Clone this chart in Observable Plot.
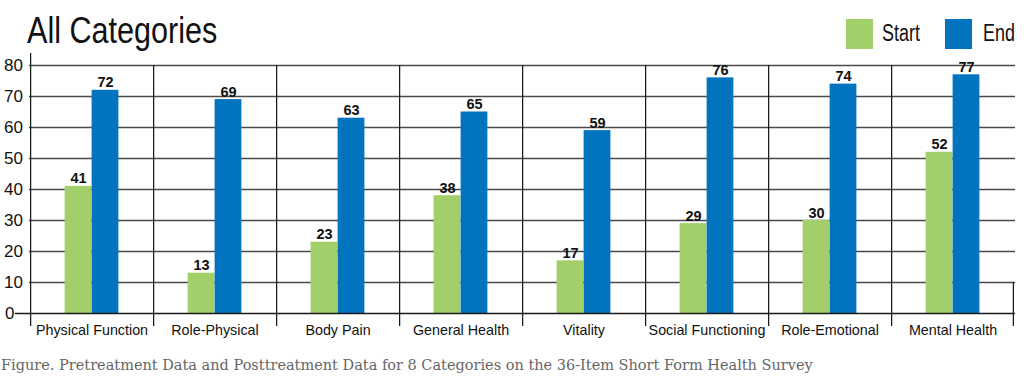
<!DOCTYPE html>
<html>
<head>
<meta charset="utf-8">
<script src="https://cdn.jsdelivr.net/npm/d3@7"></script>
<script src="https://cdn.jsdelivr.net/npm/@observablehq/plot@0.6"></script>
<style>
  body { margin: 0; background: #fff; width: 1024px; height: 380px; overflow: hidden; }
  #head { position: relative; height: 53px; font-family: "Liberation Sans", Arial, sans-serif; color: #111; }
  #title { position: absolute; left: 27px; top: 12px; font-size: 37px; line-height: 1; white-space: nowrap; transform: scaleX(0.826); transform-origin: 0 0; }
  .sw { position: absolute; top: 19px; width: 27px; height: 30px; }
  .lt { position: absolute; top: 22px; font-size: 23px; line-height: 1; white-space: nowrap; transform: scaleX(0.78); transform-origin: 0 0; }
  #chart svg { display: block; overflow: visible; }
  #cap { font-family: "DejaVu Serif", serif; font-size: 14.5px; line-height: 20px; color: #666; margin-left: 1px; margin-top: 7px; white-space: nowrap; }
</style>
</head>
<body>
<div id="head">
  <div id="title">All Categories</div>
  <div id="legend"></div>
</div>
<div id="chart"></div>
<div id="cap">Figure. Pretreatment Data and Posttreatment Data for 8 Categories on the 36-Item Short Form Health Survey</div>
<script>
const categories = ["Physical Function", "Role-Physical", "Body Pain", "General Health", "Vitality", "Social Functioning", "Role-Emotional", "Mental Health"];
const startValues = [41, 13, 23, 38, 17, 29, 30, 52];
const endValues = [72, 69, 63, 65, 59, 76, 74, 77];
const series = ["Start", "End"];
const colors = ["#a2cf69", "#0273be"];
const yTicks = [0, 10, 20, 30, 40, 50, 60, 70, 80];

const REG = '"Liberation Sans", Arial, sans-serif';

// legend
const legendPos = [{sw: 846, lt: 882}, {sw: 945, lt: 983}];
const legend = document.getElementById("legend");
series.forEach((s, i) => {
  const sw = document.createElement("div");
  sw.className = "sw"; sw.style.left = legendPos[i].sw + "px"; sw.style.background = colors[i];
  const lt = document.createElement("div");
  lt.className = "lt"; lt.style.left = legendPos[i].lt + "px"; lt.textContent = s;
  legend.appendChild(sw); legend.appendChild(lt);
});

const startData = categories.map((c, i) => ({category: c, series: series[0], value: startValues[i]}));
const endData = categories.map((c, i) => ({category: c, series: series[1], value: endValues[i]}));

const W = 1024, H = 295, mL = 29, mR = 9, mT = 12, mB = 35;
const bw = (W - mL - mR) / categories.length;
const barW = 27;
const lineW = 1.5;

const chart = Plot.plot({
  width: W, height: H,
  marginLeft: mL, marginRight: mR, marginTop: mT, marginBottom: mB,
  style: {fontFamily: REG, color: "#111", background: "transparent", overflow: "visible"},
  x: {type: "band", domain: categories, padding: 0, axis: null, label: null},
  y: {domain: [0, 80], axis: null, label: null},
  marks: [
    Plot.ruleY(yTicks.slice(1), {stroke: "#4a4a4a", strokeWidth: lineW}),
    Plot.barY(categories.slice(1), {x: d => d, y1: -4.2, y2: 80, fill: "#1a1a1a", insetRight: bw - lineW}),
    Plot.barY(categories.slice(0, 1), {x: d => d, y1: -4.2, y2: 83.9, fill: "#1a1a1a", insetRight: bw - lineW}),
    Plot.barY(categories.slice(-1), {x: d => d, y1: -4.2, y2: 10, fill: "#1a1a1a", insetLeft: bw - lineW}),
    Plot.barY(startData, {x: "category", y: "value", fill: colors[0], insetLeft: bw / 2 - barW, insetRight: bw / 2}),
    Plot.barY(endData, {x: "category", y: "value", fill: colors[1], insetLeft: bw / 2, insetRight: bw / 2 - barW}),
    Plot.ruleY([0], {stroke: "#1a1a1a", strokeWidth: lineW}),
    Plot.text(startData, {x: "category", y: "value", text: d => String(d.value), dx: -barW / 2, dy: -3, lineAnchor: "bottom", fontWeight: "bold", fontSize: 14.5, fill: "#111"}),
    Plot.text(endData, {x: "category", y: "value", text: d => String(d.value), dx: barW / 2, dy: -3, lineAnchor: "bottom", fontWeight: "bold", fontSize: 14.5, fill: "#111"}),
    Plot.axisY({ticks: yTicks.slice(1), tickSize: 0, tickPadding: 6.5, fontSize: 17, label: null}),
    Plot.axisY({ticks: [0], tickSize: 14, tickPadding: 1, fontSize: 17, stroke: "#1a1a1a", strokeWidth: lineW, label: null}),
    Plot.axisX({tickSize: 0, tickPadding: 11, fontSize: 14.3, label: null})
  ]
});
document.getElementById("chart").appendChild(chart);
</script>
</body>
</html>
